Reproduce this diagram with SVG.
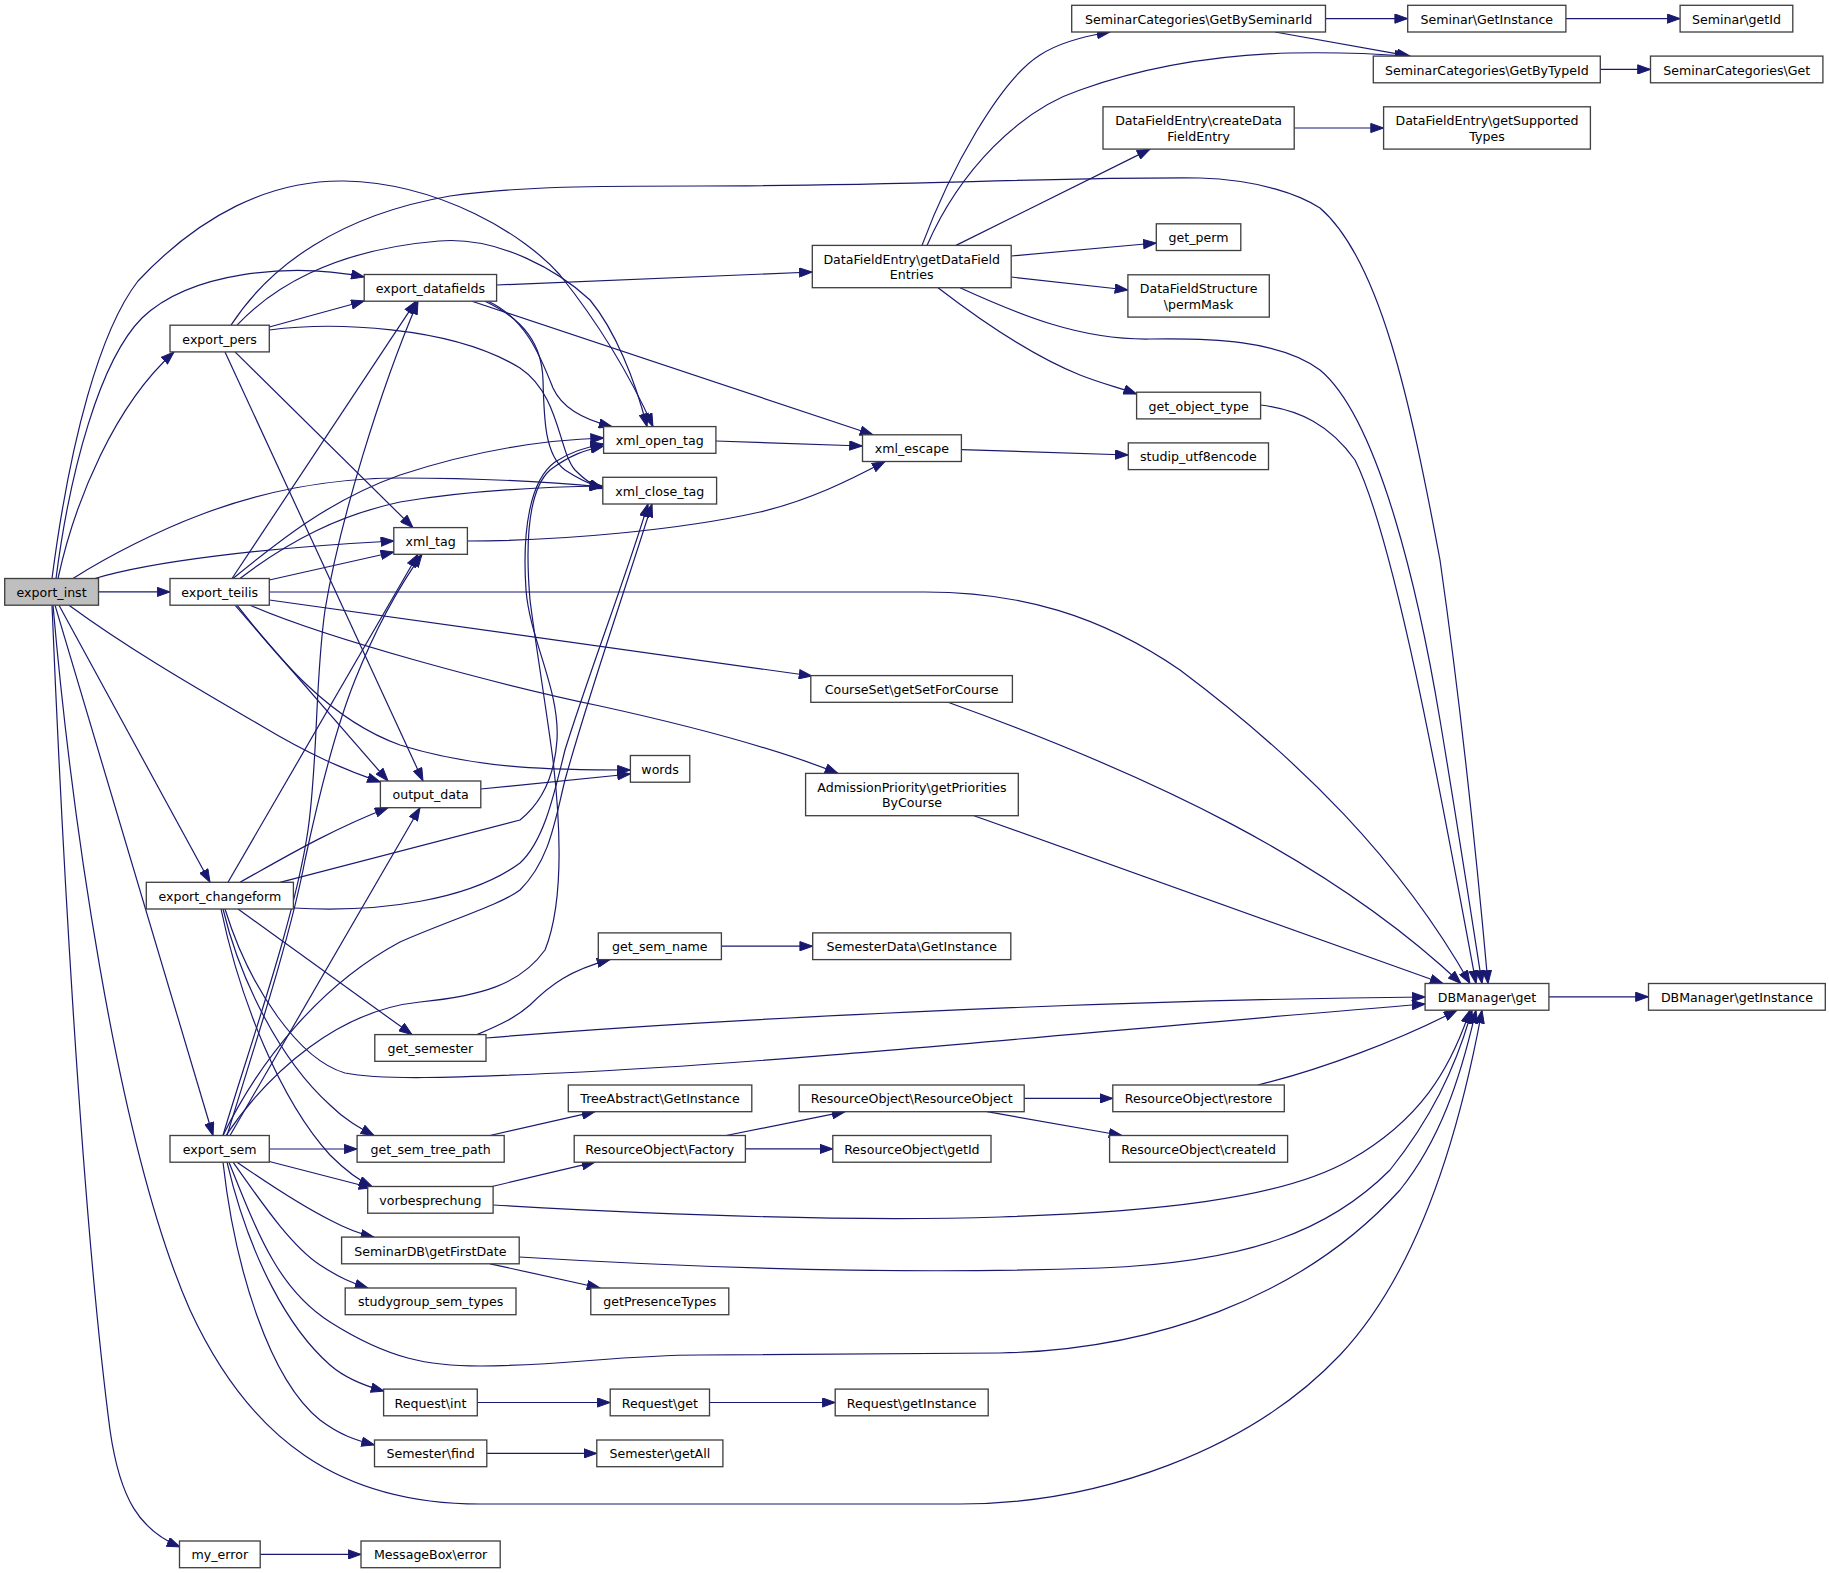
<svg xmlns="http://www.w3.org/2000/svg" width="1829" height="1573" viewBox="0 0 1829 1573">
<defs>
<style>
.n rect{fill:#fff;stroke:#404040;stroke-width:1.33}
.n.root rect{fill:#bfbfbf}
.n text{font-family:"DejaVu Sans","Liberation Sans",sans-serif;font-size:12.6px;fill:#000;text-anchor:middle}
#edges path{fill:none;stroke:#191970;stroke-width:1.2;marker-end:url(#a)}
</style>
<marker id="a" markerUnits="userSpaceOnUse" markerWidth="14" markerHeight="10" viewBox="0 0 14 10" refX="13.3" refY="5" orient="auto">
<path d="M0.5,0.4 L13.3,5 L0.5,9.6 z" fill="#191970" stroke="#191970" stroke-width="1"/>
</marker>
</defs>
<rect width="1829" height="1573" fill="#fff"/>
<g id="edges">
<path d="M58,578.5 C75,500 115,405 174,352"/>
<path d="M56,578.5 C70,470 100,360 142,318 C190,272 290,262 364.2,277"/>
<path d="M52,578.5 C70,440 100,330 138,281 C200,215 270,180 344,181 C440,183 525,235 560,275 C600,325 632,380 653,426.6"/>
<path d="M73,578.5 C110,555 160,530 200,515 C260,492 330,478 400,478 C480,478 550,482 602.8,487"/>
<path d="M95,578.5 C150,562 260,548 393.8,541"/>
<path d="M98.5,591.9 L170,591.9"/>
<path d="M69,605.2 C130,650 200,690 260,725 C310,755 345,770 380.4,782"/>
<path d="M59,605.2 L210,882.3"/>
<path d="M55,605.2 L213,1135.5"/>
<path d="M53,605.2 C70,800 115,1140 190,1310 C250,1440 340,1504 480,1504 L960,1504 C1100,1504 1250,1450 1340,1355 C1420,1270 1460,1130 1482,1010.2"/>
<path d="M52,605.2 C60,800 80,1200 110,1430 C120,1500 140,1530 180,1547"/>
<path d="M269.3,327 L364.2,301"/>
<path d="M231,325.2 C270,265 340,215 450,196 C520,186 600,186 700,186 C900,186 1050,177 1200,178 C1260,180 1300,195 1320,208 C1380,260 1410,400 1440,560 C1460,700 1476,850 1488,983.5"/>
<path d="M237,325.2 C270,290 330,250 439,241 C500,236 560,272 590,300 C615,330 635,380 647,426.6"/>
<path d="M269.3,330 C330,322 450,325 520,368 C560,395 558,450 575,470 C585,480 592,485 602.8,488"/>
<path d="M225,351.9 L423,781"/>
<path d="M235,351.9 L413,527.6"/>
<path d="M496.6,285 L812.3,272"/>
<path d="M472,301.2 L873,434.8"/>
<path d="M488,301.2 C525,318 540,355 553,388 C562,408 585,420 612,426.6"/>
<path d="M485,301.2 C525,320 542,345 543,380 C544,420 545,455 565,470 C580,480 592,485 602.8,488.5"/>
<path d="M233,578.5 C280,540 330,500 400,475 C470,452 540,440 603.6,438"/>
<path d="M240,578.5 C290,540 340,515 400,502 C470,490 540,487 602.8,486"/>
<path d="M269.3,580 L393.8,552"/>
<path d="M232,578.5 L416,301.2"/>
<path d="M269.3,592 L925,592 C1020,592 1100,615 1180,670 C1300,760 1400,860 1470,983.5"/>
<path d="M269.3,600 L812,676"/>
<path d="M250,605.2 C330,640 500,685 600,706 C700,728 780,750 838,773.4"/>
<path d="M237,605.2 C280,660 330,720 400,745 C480,770 560,770 630.4,770"/>
<path d="M235,605.2 L388,781"/>
<path d="M480.8,789 L630.4,774"/>
<path d="M715.9,441 L862.5,446"/>
<path d="M467.4,541 C560,541 680,530 760,512 C810,500 850,480 885,461.5"/>
<path d="M961.4,449.6 L1128.3,455"/>
<path d="M922,245.4 C950,170 1000,80 1040,55 C1060,42 1085,36 1110,32"/>
<path d="M927,245.4 C960,170 1020,110 1080,90 C1150,65 1220,55 1290,53 C1340,52 1380,54 1408,56.1"/>
<path d="M1325.5,18.6 L1407.7,18.6"/>
<path d="M1275,32 L1410,56.1"/>
<path d="M1565.9,18.6 L1680.1,18.6"/>
<path d="M1600.3,69.4 L1650.5,69.4"/>
<path d="M956,245.4 L1150,149.1"/>
<path d="M1294.2,128 L1383.6,128"/>
<path d="M1011.2,256 L1156.3,243"/>
<path d="M1011.2,277 L1127.9,290"/>
<path d="M960,287.7 C1020,315 1080,340 1150,339 C1210,338 1280,340 1320,370 C1380,420 1420,600 1440,720 C1460,840 1472,920 1482,983.5"/>
<path d="M938,287.7 C980,320 1030,355 1080,375 C1100,383 1120,388 1136.6,394"/>
<path d="M1260.6,405 C1300,410 1330,425 1355,460 C1395,540 1442,800 1476,983.5"/>
<path d="M948,702.3 C1150,775 1330,860 1461,983.5"/>
<path d="M974,815.7 L1443,983.5"/>
<path d="M721.4,946.2 L812.7,946.2"/>
<path d="M477,1034.6 C500,1025 515,1018 530,1005 C550,985 570,970 610,959.6"/>
<path d="M486,1038 C700,1020 1100,1000 1425.1,997"/>
<path d="M225,909 C250,990 300,1060 345,1073 C380,1080 450,1078 560,1073 C800,1062 1100,1030 1425.1,1004"/>
<path d="M228,882.3 L418,554.3"/>
<path d="M240,882.3 C280,860 330,830 388,807.7"/>
<path d="M280,882.3 L520,820 C545,800 555,770 557,740 C560,690 530,640 526,590 C522,530 530,480 555,462 C570,452 585,447 603.6,444"/>
<path d="M293.4,908 C380,913 470,900 520,863 C545,840 555,790 565,750 C590,670 625,580 648,504"/>
<path d="M238,909 L412,1034.6"/>
<path d="M223,909 C240,980 280,1060 330,1105 C345,1120 360,1128 374,1135.5"/>
<path d="M221,909 C240,1000 280,1100 330,1155 C345,1170 358,1180 372,1186.5"/>
<path d="M269.3,1149 L357.1,1149"/>
<path d="M269.3,1161.5 L372,1188"/>
<path d="M237,1162.2 C270,1185 300,1205 330,1220 C345,1228 360,1234 374,1237.1"/>
<path d="M233,1162.2 C260,1200 290,1245 320,1265 C340,1278 352,1283 368,1288"/>
<path d="M229,1162.2 C260,1240 280,1290 330,1322 C390,1360 430,1366 480,1366 C560,1366 620,1355 700,1355 L1000,1353 C1150,1350 1300,1300 1400,1190 C1440,1140 1460,1080 1476,1010.2"/>
<path d="M227,1162.2 C250,1260 290,1330 330,1365 C345,1378 365,1386 384,1391"/>
<path d="M223,1162.2 C235,1270 270,1380 320,1420 C340,1435 355,1440 374.5,1445"/>
<path d="M223,1135.5 C245,1060 295,920 308,830 C318,760 315,680 325,610 C340,520 380,390 418,301.2"/>
<path d="M227,1135.5 C250,1060 290,940 305,860 C320,790 335,730 355,680 C375,630 400,585 422,554.3"/>
<path d="M230,1135.5 L420,807.7"/>
<path d="M226,1135.5 C270,1070 340,1010 420,1002 C480,996 520,985 545,950 C565,900 560,820 553,760 C545,700 535,640 530,600 C525,540 528,490 550,470 C570,455 585,450 603.6,446"/>
<path d="M223,1135.5 C260,1060 320,985 400,942 C450,920 500,905 520,890 C550,860 555,820 565,780 C590,690 625,590 652,504"/>
<path d="M490,1135.5 L595,1111.7"/>
<path d="M492,1186.5 L595,1162.2"/>
<path d="M493.1,1205 C650,1214 850,1222 1000,1217 C1150,1212 1280,1200 1350,1160 C1420,1120 1450,1070 1470,1010.2"/>
<path d="M490,1263.8 L600,1288"/>
<path d="M519.2,1257 C700,1268 900,1275 1100,1268 C1250,1262 1330,1230 1390,1170 C1430,1120 1455,1070 1472,1010.2"/>
<path d="M1258,1085 C1320,1070 1400,1040 1457,1010.2"/>
<path d="M726,1135.5 L845,1111.7"/>
<path d="M745.4,1148.9 L832.8,1148.9"/>
<path d="M1024.2,1098.4 L1112.8,1098.4"/>
<path d="M987,1111.7 L1122,1135.5"/>
<path d="M477.3,1402.5 L610.2,1402.5"/>
<path d="M709.5,1402.5 L835.2,1402.5"/>
<path d="M486.8,1453.4 L596.8,1453.4"/>
<path d="M260.2,1554.4 L361,1554.4"/>
<path d="M1548.9,996.8 L1648.5,996.8"/>
</g>
<g id="export_inst" class="n root"><rect x="4.7" y="578.5" width="93.8" height="26.7"/><text x="51.6" y="596.9">export_inst</text></g>
<g id="export_pers" class="n"><rect x="170" y="325.2" width="99.3" height="26.7"/><text x="219.65" y="343.6">export_pers</text></g>
<g id="export_datafields" class="n"><rect x="364.2" y="274.5" width="132.4" height="26.7"/><text x="430.4" y="292.9">export_datafields</text></g>
<g id="export_teilis" class="n"><rect x="170" y="578.5" width="99.3" height="26.7"/><text x="219.65" y="596.9">export_teilis</text></g>
<g id="export_changeform" class="n"><rect x="146.3" y="882.3" width="147.1" height="26.7"/><text x="219.85" y="900.7">export_changeform</text></g>
<g id="export_sem" class="n"><rect x="170" y="1135.5" width="99.3" height="26.7"/><text x="219.65" y="1153.9">export_sem</text></g>
<g id="my_error" class="n"><rect x="179.5" y="1541" width="80.7" height="26.7"/><text x="219.85" y="1559.4">my_error</text></g>
<g id="xml_tag" class="n"><rect x="393.8" y="527.6" width="73.6" height="26.7"/><text x="430.6" y="546">xml_tag</text></g>
<g id="output_data" class="n"><rect x="380.4" y="781" width="100.4" height="26.7"/><text x="430.6" y="799.4">output_data</text></g>
<g id="get_semester" class="n"><rect x="374.8" y="1034.6" width="111.2" height="26.7"/><text x="430.4" y="1053">get_semester</text></g>
<g id="get_sem_tree_path" class="n"><rect x="357.1" y="1135.5" width="147.1" height="26.7"/><text x="430.65" y="1153.9">get_sem_tree_path</text></g>
<g id="vorbesprechung" class="n"><rect x="367.7" y="1186.5" width="125.4" height="26.7"/><text x="430.4" y="1204.9">vorbesprechung</text></g>
<g id="SeminarDB_getFirstDate" class="n"><rect x="341.6" y="1237.1" width="177.6" height="26.7"/><text x="430.4" y="1255.5">SeminarDB\getFirstDate</text></g>
<g id="studygroup_sem_types" class="n"><rect x="345.2" y="1288" width="170.8" height="26.7"/><text x="430.6" y="1306.4">studygroup_sem_types</text></g>
<g id="Request_int" class="n"><rect x="383.6" y="1389.1" width="93.7" height="26.7"/><text x="430.45" y="1407.5">Request\int</text></g>
<g id="Semester_find" class="n"><rect x="374.5" y="1440" width="112.3" height="26.7"/><text x="430.65" y="1458.4">Semester\find</text></g>
<g id="MessageBox_error" class="n"><rect x="361" y="1541" width="139.2" height="26.7"/><text x="430.6" y="1559.4">MessageBox\error</text></g>
<g id="xml_open_tag" class="n"><rect x="603.6" y="426.6" width="112.3" height="26.7"/><text x="659.75" y="445">xml_open_tag</text></g>
<g id="xml_close_tag" class="n"><rect x="602.8" y="477.3" width="113.8" height="26.7"/><text x="659.7" y="495.7">xml_close_tag</text></g>
<g id="words" class="n"><rect x="630.4" y="755.5" width="59.4" height="26.7"/><text x="660.1" y="773.9">words</text></g>
<g id="get_sem_name" class="n"><rect x="598.3" y="932.9" width="123.1" height="26.7"/><text x="659.85" y="951.3">get_sem_name</text></g>
<g id="TreeAbstract_GetInstance" class="n"><rect x="568.3" y="1085" width="183.5" height="26.7"/><text x="660.05" y="1103.4">TreeAbstract\GetInstance</text></g>
<g id="ResourceObject_Factory" class="n"><rect x="574.2" y="1135.5" width="171.2" height="26.7"/><text x="659.8" y="1153.9">ResourceObject\Factory</text></g>
<g id="getPresenceTypes" class="n"><rect x="590.8" y="1288" width="138" height="26.7"/><text x="659.8" y="1306.4">getPresenceTypes</text></g>
<g id="Request_get" class="n"><rect x="610.2" y="1389.1" width="99.3" height="26.7"/><text x="659.85" y="1407.5">Request\get</text></g>
<g id="Semester_getAll" class="n"><rect x="596.8" y="1440" width="126.1" height="26.7"/><text x="659.85" y="1458.4">Semester\getAll</text></g>
<g id="DataFieldEntry_getDataFieldEntries" class="n"><rect x="812.3" y="245.4" width="198.9" height="42.3"/><text x="911.75" y="263.7">DataFieldEntry\getDataField</text><text x="911.75" y="279.2">Entries</text></g>
<g id="xml_escape" class="n"><rect x="862.5" y="434.8" width="98.9" height="26.7"/><text x="911.95" y="453.2">xml_escape</text></g>
<g id="CourseSet_getSetForCourse" class="n"><rect x="810.8" y="675.6" width="201.6" height="26.7"/><text x="911.6" y="694">CourseSet\getSetForCourse</text></g>
<g id="AdmissionPriority_getPrioritiesByCourse" class="n"><rect x="805.6" y="773.4" width="212.7" height="42.3"/><text x="911.95" y="791.7">AdmissionPriority\getPriorities</text><text x="911.95" y="807.2">ByCourse</text></g>
<g id="SemesterData_GetInstance" class="n"><rect x="812.7" y="932.9" width="198.1" height="26.7"/><text x="911.75" y="951.3">SemesterData\GetInstance</text></g>
<g id="ResourceObject_ResourceObject" class="n"><rect x="799.2" y="1085" width="225" height="26.7"/><text x="911.7" y="1103.4">ResourceObject\ResourceObject</text></g>
<g id="ResourceObject_getId" class="n"><rect x="832.8" y="1135.5" width="158.2" height="26.7"/><text x="911.9" y="1153.9">ResourceObject\getId</text></g>
<g id="Request_getInstance" class="n"><rect x="835.2" y="1389.1" width="153" height="26.7"/><text x="911.7" y="1407.5">Request\getInstance</text></g>
<g id="SeminarCategories_GetBySeminarId" class="n"><rect x="1071.7" y="5.3" width="253.8" height="26.7"/><text x="1198.6" y="23.7">SeminarCategories\GetBySeminarId</text></g>
<g id="DataFieldEntry_createDataFieldEntry" class="n"><rect x="1103" y="106.8" width="191.2" height="42.3"/><text x="1198.6" y="125.1">DataFieldEntry\createData</text><text x="1198.6" y="140.6">FieldEntry</text></g>
<g id="get_perm" class="n"><rect x="1156.3" y="223.8" width="84.5" height="26.7"/><text x="1198.55" y="242.2">get_perm</text></g>
<g id="DataFieldStructure_permMask" class="n"><rect x="1127.9" y="274.8" width="141.4" height="42.3"/><text x="1198.6" y="293.1">DataFieldStructure</text><text x="1198.6" y="308.6">\permMask</text></g>
<g id="get_object_type" class="n"><rect x="1136.6" y="392.2" width="124" height="26.7"/><text x="1198.6" y="410.6">get_object_type</text></g>
<g id="studip_utf8encode" class="n"><rect x="1128.3" y="442.9" width="140.2" height="26.7"/><text x="1198.4" y="461.3">studip_utf8encode</text></g>
<g id="ResourceObject_restore" class="n"><rect x="1112.8" y="1085" width="171.5" height="26.7"/><text x="1198.55" y="1103.4">ResourceObject\restore</text></g>
<g id="ResourceObject_createId" class="n"><rect x="1109.6" y="1135.5" width="178" height="26.7"/><text x="1198.6" y="1153.9">ResourceObject\createId</text></g>
<g id="Seminar_GetInstance" class="n"><rect x="1407.7" y="5.3" width="158.2" height="26.7"/><text x="1486.8" y="23.7">Seminar\GetInstance</text></g>
<g id="SeminarCategories_GetByTypeId" class="n"><rect x="1373.3" y="56.1" width="227" height="26.7"/><text x="1486.8" y="74.5">SeminarCategories\GetByTypeId</text></g>
<g id="DataFieldEntry_getSupportedTypes" class="n"><rect x="1383.6" y="106.8" width="206.8" height="42.3"/><text x="1487" y="125.1">DataFieldEntry\getSupported</text><text x="1487" y="140.6">Types</text></g>
<g id="DBManager_get" class="n"><rect x="1425.1" y="983.5" width="123.8" height="26.7"/><text x="1487" y="1001.9">DBManager\get</text></g>
<g id="Seminar_getId" class="n"><rect x="1680.1" y="5.3" width="112.7" height="26.7"/><text x="1736.45" y="23.7">Seminar\getId</text></g>
<g id="SeminarCategories_Get" class="n"><rect x="1650.5" y="56.1" width="172.4" height="26.7"/><text x="1736.7" y="74.5">SeminarCategories\Get</text></g>
<g id="DBManager_getInstance" class="n"><rect x="1648.5" y="983.5" width="176.8" height="26.7"/><text x="1736.9" y="1001.9">DBManager\getInstance</text></g>
</svg>
